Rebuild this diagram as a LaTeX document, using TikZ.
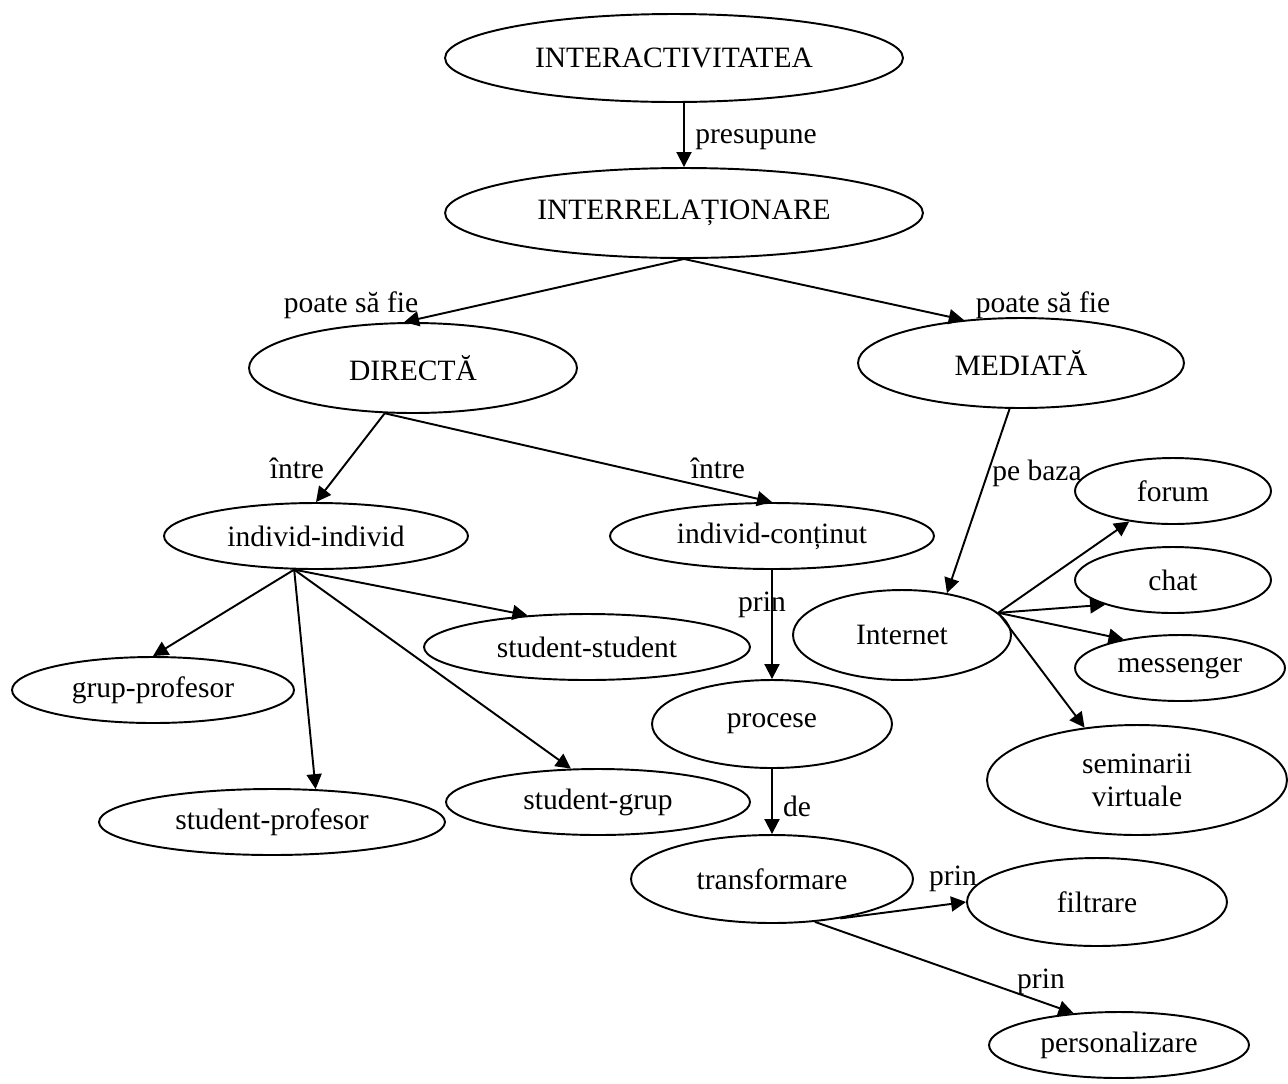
\documentclass[tikz,border=0pt]{standalone}
\usepackage{fontspec}
\setmainfont{Liberation Serif}
\usetikzlibrary{shapes.geometric, arrows.meta}
\tikzstyle{bubble}=[ellipse, draw, line width=1.1pt, inner sep=0pt, align=center, font=\fontsize{16.8}{18.7}\selectfont]
\tikzstyle{tag}=[inner sep=0pt, anchor=base, font=\fontsize{16.8}{18.7}\selectfont]
\tikzstyle{link}=[-{Triangle[length=0.3cm,width=0.3cm]}, line width=1.1pt]
\newcommand{\bubble}[2]{\node[bubble, minimum width=#1cm, minimum height=#2cm]}

\begin{document}
\begin{tikzpicture}[x=0.02cm, y=-0.02cm]
\useasboundingbox (0,0) rectangle (1288,1083);
%nodes
\bubble{9.16}{1.76} (interact) at (674,58) {INTERACTIVITATEA};
\bubble{9.56}{1.8} (interrel) at (684,213) {INTERRELAȚIONARE};
\bubble{6.56}{1.8} (direct) at (413,368) {DIRECTĂ};
\bubble{6.52}{1.8} (mediat) at (1021,363) {MEDIATĂ};
\bubble{6.08}{1.32} (indiv) at (316,536) {individ-individ};
\bubble{6.48}{1.32} (contin) at (772,536) {individ-conținut};
\bubble{4.36}{1.8} (internet) at (902,635) {Internet};
\bubble{3.92}{1.32} (forum) at (1173,491) {forum};
\bubble{3.92}{1.32} (chat) at (1173,580) {chat};
\bubble{4.2}{1.32} (messenger) at (1180,668) {messenger};
\bubble{6.0}{2.2} (seminar) at (1137,780) {seminarii\\virtuale};
\bubble{5.64}{1.32} (grupprof) at (153,690) {grup-profesor};
\bubble{6.52}{1.32} (studstud) at (587,647) {student-student};
\bubble{6.92}{1.32} (studprof) at (272,822) {student-profesor};
\bubble{6.08}{1.32} (studgrup) at (598,802) {student-grup};
\bubble{4.8}{1.76} (procese) at (772,724) {procese};
\bubble{5.64}{1.76} (transf) at (772,879) {transformare};
\bubble{5.2}{1.76} (filtrare) at (1097,902) {filtrare};
\bubble{5.2}{1.32} (personal) at (1119,1045) {personalizare};
%edges
\draw[link] (interact.south -| interrel.north) -- (interrel.north);
\draw[link] (interrel.south) -- (direct.101);
\draw[link] (interrel.south) -- (mediat.143);
\draw[link] (direct.238) -- (indiv.north);
\draw[link] (direct.238) -- (contin.north);
\draw[link] (mediat.256) -- (internet.43);
\foreach \t in {grupprof.north, studprof.37, studstud.152, studgrup.129}{
	\draw[link] (indiv.237) -- (\t);}
\draw[link] (contin.south) -- (procese.north);
\draw[link] (procese.south) -- (transf.north);
\foreach \t in {forum, chat.200, messenger.153, seminar.135}{
	\draw[link] (internet.13) -- (\t);}
\draw[link] (transf.330) -- (filtrare.west);
\draw[link] (transf.315) -- (personal.145);
%labels
\node[tag] (lpresup) at (756,143) {presupune};
\node[tag] (lpoate1) at (351,312) {poate să fie};
\node[tag] (lpoate2) at (1043,312) {poate să fie};
\node[tag] (lintre1) at (297,478) {între};
\node[tag] (lintre2) at (718,478) {între};
\node[tag] (lbaza) at (1037,480) {pe baza};
\node[tag] (lprin1) at (762,611) {prin};
\node[tag] (lde) at (797,816) {de};
\node[tag] (lprin2) at (953,885) {prin};
\node[tag] (lprin3) at (1041,988) {prin};
\end{tikzpicture}
\end{document}
